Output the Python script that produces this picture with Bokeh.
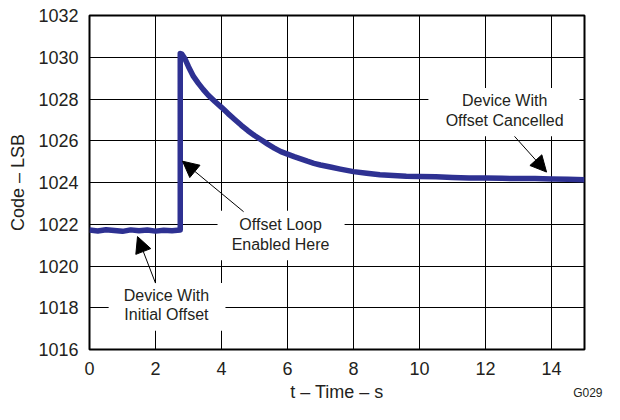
from bokeh.plotting import figure
from bokeh.models import Arrow, NormalHead, BoxAnnotation, Label, FixedTicker, Title
from bokeh.embed import file_html
from bokeh.resources import INLINE

# ---- data ----
t_flat = [0.0, 0.25, 0.5, 0.75, 1.0, 1.25, 1.5, 1.75, 2.0, 2.25, 2.5, 2.75]
code_flat = [1021.72, 1021.68, 1021.74, 1021.70, 1021.66, 1021.73, 1021.69,
             1021.72, 1021.67, 1021.71, 1021.69, 1021.72]

t_loop = [2.75, 2.80, 2.90, 3.00, 3.15, 3.30, 3.45, 3.60, 3.80, 4.00, 4.20,
          4.40, 4.60, 4.80, 5.00, 5.20, 5.40, 5.60, 5.80, 6.00, 6.20, 6.40,
          6.60, 6.80, 7.00, 7.30, 7.60, 8.00, 8.40, 8.80, 9.20, 9.60, 10.0,
          10.5, 11.0, 11.5, 12.0, 12.5, 13.0, 13.5, 14.0, 14.5, 15.0]
code_loop = [1030.18, 1030.15, 1029.90, 1029.55, 1029.08, 1028.75, 1028.45,
             1028.18, 1027.88, 1027.60, 1027.30, 1027.02, 1026.74, 1026.48,
             1026.25, 1026.05, 1025.84, 1025.65, 1025.48, 1025.36, 1025.24,
             1025.13, 1025.02, 1024.92, 1024.84, 1024.74, 1024.64, 1024.52,
             1024.44, 1024.37, 1024.33, 1024.30, 1024.29, 1024.27, 1024.24,
             1024.22, 1024.22, 1024.20, 1024.19, 1024.19, 1024.17, 1024.15,
             1024.13]

t_all = t_flat + t_loop
code_all = code_flat + code_loop

x_ticks = [0, 2, 4, 6, 8, 10, 12, 14]
y_ticks = [1016, 1018, 1020, 1022, 1024, 1026, 1028, 1030, 1032]

FONT = "Liberation Sans"
TXT = "#231F20"
BLUE = "#2E3192"

p = figure(width=604, height=404, x_range=(0, 15), y_range=(1016, 1032),
           output_backend="svg", toolbar_location=None,
           min_border_left=89, min_border_right=20, min_border_top=15,
           min_border_bottom=52)
p.background_fill_color = "white"
p.border_fill_color = "white"
p.outline_line_color = "black"
p.outline_line_width = 2
p.outline_line_alpha = 1

p.xaxis.ticker = FixedTicker(ticks=x_ticks)
p.yaxis.ticker = FixedTicker(ticks=y_ticks)
for ax in (p.xaxis, p.yaxis):
    ax.axis_line_color = None
    ax.major_tick_line_color = None
    ax.minor_tick_line_color = None
    ax.major_tick_in = 0
    ax.major_tick_out = 0
    ax.major_label_text_font = FONT
    ax.major_label_text_font_size = "18px"
    ax.major_label_text_color = TXT
    ax.axis_label_text_font = FONT
    ax.axis_label_text_font_size = "18px"
    ax.axis_label_text_font_style = "normal"
    ax.axis_label_text_color = TXT
p.xaxis.axis_label = "t \u2013 Time \u2013 s"
p.yaxis.axis_label = "Code \u2013 LSB"
p.xaxis.major_label_standoff = 12
p.yaxis.major_label_standoff = 11
p.xaxis.axis_label_standoff = 4
p.yaxis.axis_label_standoff = 7

for g in (p.xgrid, p.ygrid):
    g.grid_line_color = "black"
    g.grid_line_width = 1
    g.grid_line_alpha = 1

p.line(t_all, code_all, line_color=BLUE, line_width=5.5, line_join="round")

# white boxes behind annotation texts
boxes = [(3.88, 7.73, 1020.27, 1022.65),
         (0.58, 4.12, 1016.90, 1019.18),
         (10.27, 14.85, 1026.21, 1028.53)]
for l, r, b, t in boxes:
    p.add_layout(BoxAnnotation(left=l, right=r, bottom=b, top=t,
                               fill_color="white", fill_alpha=1,
                               line_color=None))

arrows = [(4.67, 1022.60, 2.82, 1025.02),
          (2.00, 1019.18, 1.455, 1021.41),
          (12.88, 1026.21, 13.85, 1024.50)]
for xs, ys, xe, ye in arrows:
    p.add_layout(Arrow(end=NormalHead(size=16, fill_color="black",
                                      line_color="black", line_width=1),
                       x_start=xs, y_start=ys, x_end=xe, y_end=ye,
                       line_color="black", line_width=1))

labels = [(5.79, 1021.98, "Offset Loop"), (5.79, 1021.03, "Enabled Here"),
          (2.33, 1018.61, "Device With"), (2.33, 1017.66, "Initial Offset"),
          (12.58, 1027.92, "Device With"), (12.58, 1026.97, "Offset Cancelled")]
for x, y, s in labels:
    p.add_layout(Label(x=x, y=y, text=s, text_align="center",
                       text_baseline="middle", text_font=FONT,
                       text_font_size="16px", text_color=TXT))

p.add_layout(Title(text="G029", align="right", offset=-18, standoff=-38,
                   vertical_align="top", text_font=FONT,
                   text_font_size="12px", text_font_style="normal",
                   text_color=TXT), "below")

open("out.html", "w").write(file_html(p, INLINE))
